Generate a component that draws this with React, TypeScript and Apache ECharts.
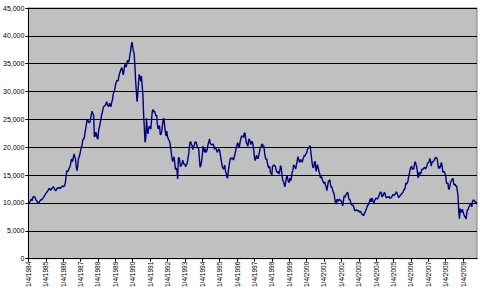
import React, { useEffect, useRef } from "react";
import * as echarts from "echarts";

// Semi-monthly readings (two per month) of the index, by year
const y1984 = [10000, 9900, 10200, 10500, 10700, 10400, 10900, 11200, 11000, 11100, 10700, 10400, 10300, 10000, 9900, 10200, 10400, 10600, 10500, 10700, 10900, 11000, 11200, 11500];
const y1985 = [11700, 11900, 12000, 12200, 12500, 12600, 12400, 12300, 12600, 12700, 12900, 12800, 12500, 12300, 12200, 12500, 12700, 12600, 12800, 12700, 12600, 12800, 12900, 13100];
const y1986 = [13000, 12900, 13200, 13600, 14800, 15800, 15600, 15800, 16200, 16400, 16800, 17600, 17900, 17400, 18200, 18800, 18300, 17900, 16500, 15800, 16600, 17900, 18300, 18700];
const y1987 = [19400, 20000, 20300, 21300, 21500, 21600, 22500, 23300, 24000, 25000, 24900, 24500, 24400, 24500, 25300, 26000, 26500, 26000, 25800, 21900, 22000, 22700, 22300, 21600];
const y1988 = [21500, 23200, 23600, 24300, 25000, 25800, 26200, 26900, 27300, 27400, 27500, 27800, 28200, 27600, 27500, 27300, 27900, 27600, 27300, 28100, 28500, 29500, 29900, 30200];
const y1989 = [31000, 31600, 32000, 31900, 32000, 32800, 33300, 33700, 34100, 34300, 33600, 33000, 33900, 34900, 34600, 34400, 35200, 35600, 35300, 35500, 36500, 37200, 38300, 38900];
const y1990 = [38000, 37200, 36800, 34600, 32000, 29900, 28200, 29600, 31500, 33100, 32500, 31900, 32800, 31000, 29500, 25900, 23500, 20900, 21500, 25200, 23000, 22400, 23500, 23800];
const y1991 = [23400, 23300, 25000, 26400, 26800, 26300, 26500, 26100, 25600, 25800, 24200, 23300, 23500, 23900, 22300, 22300, 22800, 23900, 25000, 25200, 24000, 22700, 22000, 22900];
const y1992 = [22000, 21500, 21300, 21000, 20200, 19300, 18200, 17400, 17800, 18300, 17200, 16000, 16300, 15900, 14300, 18000, 18200, 17400, 16500, 16800, 17000, 17700, 17200, 16900];
const y1993 = [17000, 16500, 16900, 17000, 17800, 18600, 19800, 20900, 21000, 20500, 20300, 19600, 20000, 20400, 20900, 21000, 20700, 20100, 19900, 19700, 18000, 16400, 16800, 17400];
const y1994 = [18500, 20200, 19600, 19100, 19800, 19100, 19300, 19700, 20600, 20900, 21500, 20600, 20600, 20400, 20500, 20600, 20200, 19600, 20000, 19900, 19300, 19100, 19500, 19700];
const y1995 = [19400, 18600, 17800, 17000, 16400, 16100, 16200, 16800, 15700, 15400, 14600, 14500, 15800, 16700, 17500, 18100, 18000, 17900, 18100, 17700, 18200, 18700, 19300, 19900];
const y1996 = [20500, 20800, 20300, 19900, 20800, 21400, 22000, 22000, 22000, 21700, 22600, 22500, 21500, 20700, 20500, 20200, 21300, 21500, 21000, 20500, 21000, 21000, 20500, 19400];
const y1997 = [18300, 17600, 18100, 18600, 18000, 18000, 18500, 19200, 19800, 20100, 20500, 20600, 20100, 20300, 19000, 18200, 17800, 17900, 17100, 16500, 16300, 16600, 15500, 15300];
const y1998 = [15000, 16600, 16700, 16800, 16700, 16500, 15900, 15600, 15400, 15700, 15200, 15800, 16700, 16400, 15000, 14100, 13900, 13400, 12900, 13600, 14500, 14900, 14300, 13800];
const y1999 = [13700, 14500, 14000, 14400, 15500, 15800, 16800, 16700, 16400, 16100, 16900, 17500, 18300, 17900, 17300, 17400, 17800, 17600, 17300, 17900, 18200, 18600, 18400, 18900];
const y2000 = [18900, 19500, 20000, 19900, 20000, 20300, 19000, 17900, 16800, 16300, 16500, 17400, 17400, 15700, 16200, 16900, 16300, 15700, 15300, 14500, 14700, 14600, 14000, 13800];
const y2001 = [13500, 13800, 13200, 12900, 12200, 13000, 13900, 13900, 14200, 13300, 12800, 12900, 12200, 11900, 11600, 10700, 10000, 9800, 10700, 10400, 10300, 10700, 10500, 10500];
const y2002 = [10300, 9900, 9500, 10600, 11300, 11000, 11500, 11500, 11900, 11800, 10900, 10600, 10600, 10000, 9700, 9600, 9600, 9400, 8700, 8600, 8700, 8800, 8600, 8600];
const y2003 = [8600, 8300, 8500, 8400, 8000, 7970, 7800, 7800, 8200, 8400, 8800, 9100, 9600, 9600, 9900, 10300, 10800, 10200, 10900, 10600, 10200, 10100, 10500, 10700];
const y2004 = [10900, 10800, 10700, 11000, 11400, 11700, 12000, 11800, 11100, 11200, 11500, 11900, 11800, 11300, 10900, 11100, 11000, 11000, 11200, 10800, 10900, 11000, 11200, 11500];
const y2005 = [11400, 11400, 11600, 11700, 12000, 11700, 11300, 11000, 11100, 11300, 11500, 11600, 11800, 11900, 12300, 12400, 12700, 13600, 13400, 13600, 14000, 14900, 15400, 16100];
const y2006 = [16400, 16600, 16000, 16200, 16100, 17100, 17400, 16900, 16500, 15500, 14500, 15500, 14800, 15500, 15300, 16100, 16000, 16100, 16300, 16400, 16100, 16300, 16600, 17200];
const y2007 = [17200, 17400, 18000, 17600, 16600, 17300, 17400, 17400, 17700, 17900, 18200, 18100, 18000, 17200, 16200, 16600, 16200, 16800, 17300, 16700, 15500, 15700, 15600, 15300];
const y2008 = [14900, 13600, 13500, 13600, 12500, 12500, 13200, 13800, 14000, 14300, 14400, 13500, 13200, 13400, 13000, 13100, 12200, 11300, 8500, 7200, 9000, 8500, 8300, 8900];
const y2009 = [8400, 8000, 7600, 7500, 7100, 8100, 8800, 8800, 9300, 9500, 9800, 9900, 9300, 10300, 10500, 10500, 10300, 10100, 10200, 9800];

const years = [1984, 1985, 1986, 1987, 1988, 1989, 1990, 1991, 1992, 1993, 1994, 1995, 1996, 1997, 1998, 1999, 2000, 2001, 2002, 2003, 2004, 2005, 2006, 2007, 2008, 2009];
const yearly = [y1984, y1985, y1986, y1987, y1988, y1989, y1990, y1991, y1992, y1993, y1994, y1995, y1996, y1997, y1998, y1999, y2000, y2001, y2002, y2003, y2004, y2005, y2006, y2007, y2008, y2009];
const yTicks = [0, 5000, 10000, 15000, 20000, 25000, 30000, 35000, 40000, 45000];

export default function App() {
  const ref = useRef<HTMLDivElement>(null);
  useEffect(() => {
    if (!ref.current) return;
    const chart = echarts.init(ref.current, null, { renderer: "svg" });
    const data: [number, number][] = [];
    yearly.forEach((arr, yi) => {
      arr.forEach((v, i) => data.push([years[yi] + i / 24, v]));
    });
    chart.setOption({
      animation: false,
      backgroundColor: "#ffffff",
      grid: {
        left: 26,
        top: 8,
        right: 3,
        bottom: 31,
        show: true,
        backgroundColor: "#c0c0c0",
        borderColor: "#808080",
        borderWidth: 1,
      },
      xAxis: {
        type: "value",
        min: 1984,
        max: 2009.8,
        axisLine: { show: true, lineStyle: { color: "#000000", width: 1 } },
        axisTick: { show: true, length: 3, lineStyle: { color: "#000000" }, customValues: years },
        splitLine: { show: false },
        axisLabel: {
          customValues: years,
          rotate: 90,
          margin: 3,
          fontSize: 6.5,
          fontFamily: "Liberation Sans, Arial, sans-serif",
          color: "#000000",
          formatter: (v: number) => "1/4/" + Math.round(v),
        },
      },
      yAxis: {
        type: "value",
        min: yTicks[0],
        max: yTicks[yTicks.length - 1],
        interval: 5000,
        axisLine: { show: true, lineStyle: { color: "#000000", width: 1 } },
        axisTick: { show: true, length: 3, lineStyle: { color: "#000000" } },
        splitLine: { show: true, lineStyle: { color: "#000000", width: 1 } },
        axisLabel: {
          margin: 4,
          fontSize: 7,
          fontFamily: "Liberation Sans, Arial, sans-serif",
          color: "#000000",
          formatter: (v: number) => v.toLocaleString("en-US"),
        },
      },
      series: [
        {
          type: "line",
          data,
          showSymbol: false,
          symbol: "none",
          lineStyle: { color: "#000080", width: 1.4 },
        },
      ],
    });
    return () => chart.dispose();
  }, []);
  return (
    <div
      ref={ref}
      style={{ position: "fixed", left: 0, top: 0, width: 480, height: 290 }}
    />
  );
}
